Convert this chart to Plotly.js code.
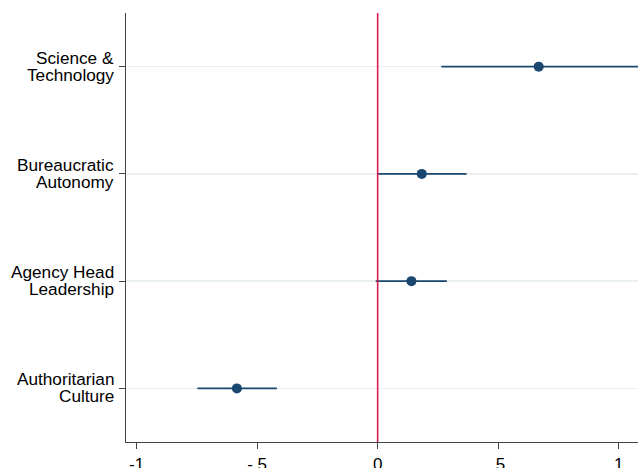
<!DOCTYPE html>
<html>
<head>
<meta charset="utf-8">
<script src="https://cdn.plot.ly/plotly-3.0.1.min.js"></script>
<style>html,body{margin:0;padding:0;background:#fff}#chart{width:638px;height:468px}</style>
</head>
<body>
<div id="chart"></div>
<script>
// Data
var categories = ["Authoritarian<br>Culture", "Agency Head<br>Leadership", "Bureaucratic<br>Autonomy", "Science &<br>Technology"];
var estimates = [-0.584, 0.140, 0.183, 0.668];
var ciLow = [-0.748, -0.008, 0.000, 0.264];
var ciHigh = [-0.418, 0.287, 0.369, 1.090];
var xTickVals = [-1, -0.5, 0, 0.5, 1];
var xTickText = ["-1", "-.5", "0", ".5", "1"];

var navy = "#1a476f";
var yIdx = categories.map(function(_, i){ return i; });
var fontFam = "Liberation Sans, Arial, sans-serif";

var traces = [];
// CI lines
for (var i = 0; i < categories.length; i++) {
  traces.push({
    type: "scatter", mode: "lines",
    x: [ciLow[i], ciHigh[i]], y: [yIdx[i], yIdx[i]],
    line: {color: navy, width: 1.8},
    hoverinfo: "skip", showlegend: false
  });
}
// Point estimates
traces.push({
  type: "scatter", mode: "markers",
  x: estimates, y: yIdx,
  marker: {color: navy, size: 10},
  showlegend: false
});

// Labels as annotations (two lines each, tight spacing)
var annotations = [];
categories.forEach(function(c, i){
  var parts = c.split("<br>");
  annotations.push({xref: "paper", yref: "y", x: 0, y: yIdx[i], xanchor: "right", yanchor: "middle",
    xshift: -10, yshift: 9, text: parts[0], showarrow: false,
    font: {family: fontFam, size: 17.2, color: "#000"}});
  annotations.push({xref: "paper", yref: "y", x: 0, y: yIdx[i], xanchor: "right", yanchor: "middle",
    xshift: -10, yshift: -8, text: parts[1], showarrow: false,
    font: {family: fontFam, size: 17.2, color: "#000"}});
});

var layout = {
  width: 638, height: 468,
  margin: {l: 126, r: 0, t: 13, b: 26},
  paper_bgcolor: "#fff", plot_bgcolor: "#fff",
  font: {family: fontFam, size: 17, color: "#000"},
  xaxis: {
    range: [-1.044, 1.080],
    tickvals: xTickVals, ticktext: xTickText,
    ticks: "outside", ticklen: 6, tickcolor: "#444", tickwidth: 1,
    showline: true, linecolor: "#444", linewidth: 1.3,
    showgrid: false, zeroline: false,
    tickfont: {size: 17, color: "#000"}
  },
  yaxis: {
    range: [-0.5, 3.5],
    tickvals: yIdx, ticktext: categories.map(function(){ return ""; }),
    ticks: "outside", ticklen: 6, tickcolor: "#444", tickwidth: 1,
    showline: true, linecolor: "#444", linewidth: 1.3,
    showgrid: true, gridcolor: "#eaf0f2", gridwidth: 1.3,
    zeroline: false
  },
  shapes: [{
    type: "line", xref: "x", yref: "paper", x0: 0, x1: 0, y0: 0, y1: 1,
    line: {color: "#d81b50", width: 1.6}
  }],
  annotations: annotations,
  showlegend: false
};

Plotly.newPlot("chart", traces, layout, {staticPlot: true, displayModeBar: false});
</script>
</body>
</html>
